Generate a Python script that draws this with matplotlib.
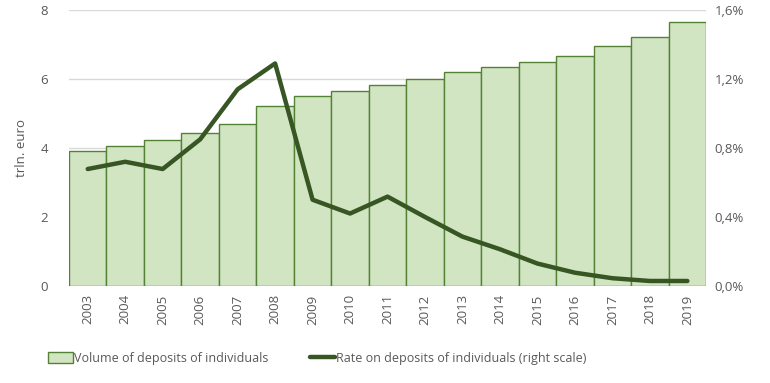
import numpy as np
import matplotlib.pyplot as plt
from matplotlib.ticker import FuncFormatter

plt.rcParams['font.family'] = ['Open Sans', 'DejaVu Sans']

years = [str(y) for y in range(2003, 2020)]
volume = [3.91, 4.06, 4.22, 4.42, 4.69, 5.21, 5.50, 5.64, 5.82, 5.99,
          6.20, 6.34, 6.49, 6.68, 6.95, 7.21, 7.64]
rate = [0.678, 0.72, 0.678, 0.85, 1.14, 1.29, 0.50, 0.42, 0.518, 0.40,
        0.286, 0.213, 0.13, 0.077, 0.045, 0.029, 0.029]

bar_face = '#d2e5c3'
bar_edge = '#548235'
line_col = '#375623'
txt_col = '#595959'

fig = plt.figure(figsize=(7.7, 3.83), dpi=100)
ax = fig.add_axes([0.0896, 0.2533, 0.8274, 0.7207])
x = np.arange(len(years))

ax.bar(x, volume, width=1.0, color=bar_face, edgecolor=bar_edge, linewidth=1.0,
       label='Volume of deposits of individuals', zorder=2)
ax.set_xlim(-0.5, len(years) - 0.5)
ax.set_ylim(0, 8)
ax.set_yticks([0, 2, 4, 6, 8])
ax.grid(axis='y', color='#d9d9d9', linewidth=1.0, zorder=0)
ax.set_axisbelow(True)
ax.set_xticks(x)
ax.set_xticklabels(years, rotation=90)
ax.set_ylabel('trln. euro', color=txt_col, fontsize=9.5, labelpad=9)
for s in ax.spines.values():
    s.set_visible(False)
ax.tick_params(axis='both', length=0, colors=txt_col, labelsize=9.5)
ax.tick_params(axis='x', pad=6)
ax.tick_params(axis='y', pad=15)

ax2 = ax.twinx()
ax2.plot(x, rate, color=line_col, linewidth=3.2, solid_capstyle='round',
         label='Rate on deposits of individuals (right scale)', zorder=3)
ax2.set_ylim(0, 1.6)
ax2.set_yticks([0, 0.4, 0.8, 1.2, 1.6])
ax2.yaxis.set_major_formatter(FuncFormatter(lambda v, p: f'{v:.1f}%'.replace('.', ',')))
for s in ax2.spines.values():
    s.set_visible(False)
ax2.tick_params(axis='y', length=0, colors=txt_col, labelsize=9.5, pad=6)

h1, l1 = ax.get_legend_handles_labels()
h2, l2 = ax2.get_legend_handles_labels()
fig.legend(h1 + h2, l1 + l2, loc='lower left', bbox_to_anchor=(0.048, 0.018),
           ncol=2, frameon=False, fontsize=9, labelcolor=txt_col,
           handlelength=2.0, handletextpad=0.1, columnspacing=3.3,
           handleheight=0.9)

fig.savefig('out.png', dpi=100)
